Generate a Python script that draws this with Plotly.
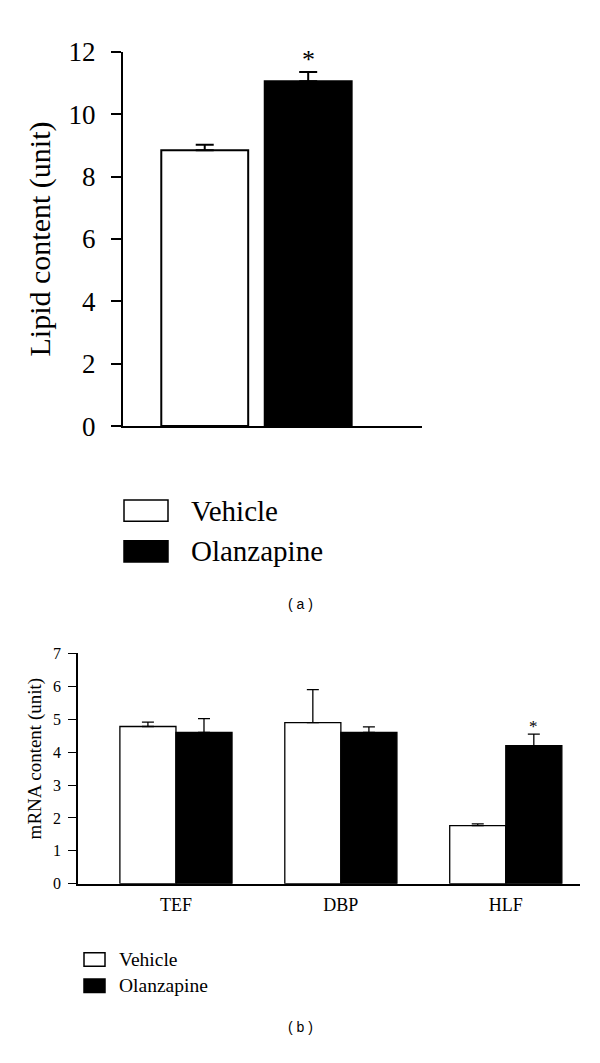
import plotly.graph_objects as go

# Panel (a)
a_groups = ["Vehicle", "Olanzapine"]
a_values = [8.85, 11.06]
a_errors = [0.17, 0.30]
a_yticks = [0, 2, 4, 6, 8, 10, 12]

# Panel (b)
b_genes = ["TEF", "DBP", "HLF"]
b_vehicle = [4.78, 4.90, 1.77]
b_vehicle_err = [0.13, 1.00, 0.05]
b_olanzapine = [4.60, 4.60, 4.20]
b_olanzapine_err = [0.42, 0.17, 0.35]
b_yticks = [0, 1, 2, 3, 4, 5, 6, 7]

W, H = 600, 1063
SERIF = "Liberation Serif"
SANS = "Liberation Sans"
fills = {"Vehicle": "white", "Olanzapine": "black"}

def px(x):
    return x / W

def py(y):
    return 1 - y / H

fig = go.Figure()

# panel (a) bars
for g, v, e in zip(a_groups, a_values, a_errors):
    fig.add_trace(go.Bar(
        x=[g], y=[v], width=[0.84], offset=[-0.42],
        marker=dict(color=fills[g], line=dict(color="black", width=2)),
        error_y=dict(type="data", array=[e], arrayminus=[0], symmetric=False,
                     color="black", thickness=2, width=9),
        xaxis="x", yaxis="y", name=g, showlegend=False,
    ))

# panel (b) bars
fig.add_trace(go.Bar(
    x=b_genes, y=b_vehicle, width=0.34, offset=-0.34,
    marker=dict(color="white", line=dict(color="black", width=1.3)),
    error_y=dict(type="data", array=b_vehicle_err, arrayminus=[0] * 3, symmetric=False,
                 color="black", thickness=1.3, width=6),
    xaxis="x2", yaxis="y2", name="Vehicle", showlegend=False,
))
fig.add_trace(go.Bar(
    x=b_genes, y=b_olanzapine, width=0.34, offset=0,
    marker=dict(color="black", line=dict(color="black", width=1.3)),
    error_y=dict(type="data", array=b_olanzapine_err, arrayminus=[0] * 3, symmetric=False,
                 color="black", thickness=1.3, width=6),
    xaxis="x2", yaxis="y2", name="Olanzapine", showlegend=False,
))

shapes = []
annotations = []

def legend(x0, x1, rows, h, fs, gap):
    for (label, yc) in rows:
        shapes.append(dict(type="rect", xref="paper", yref="paper",
                           x0=px(x0), x1=px(x1), y0=py(yc + h / 2), y1=py(yc - h / 2),
                           fillcolor=fills[label], line=dict(color="black", width=1.5)))
        annotations.append(dict(xref="paper", yref="paper", x=px(x1 + gap),
                                y=py(yc), text=label, showarrow=False, xanchor="left",
                                yanchor="middle", font=dict(family=SERIF, size=fs, color="black")))

legend(124, 168, [("Vehicle", 510), ("Olanzapine", 552)], 22, 29, 21)
legend(84, 105, [("Vehicle", 972), ("Olanzapine", 999)], 14, 19.5, 12)

# y titles
annotations.append(dict(xref="paper", yref="paper", x=px(40), y=py(231), text="Lipid content (unit)",
                        textangle=-90, showarrow=False, xanchor="center", yanchor="middle",
                        font=dict(family=SERIF, size=30, color="black")))
annotations.append(dict(xref="paper", yref="paper", x=px(35), y=py(766), text="mRNA content (unit)",
                        textangle=-90, showarrow=False, xanchor="center", yanchor="middle",
                        font=dict(family=SERIF, size=19, color="black")))

# significance asterisks
annotations.append(dict(x="Olanzapine", y=a_values[1] + a_errors[1], xref="x", yref="y",
                        text="*", showarrow=False, xanchor="center", yanchor="bottom", yshift=-4,
                        font=dict(family=SERIF, size=26, color="black")))
annotations.append(dict(x=2, y=b_olanzapine[2] + b_olanzapine_err[2], xref="x2", yref="y2",
                        text="*", showarrow=False, xanchor="center", yanchor="bottom",
                        xshift=28, yshift=-4,
                        font=dict(family=SERIF, size=17, color="black")))

# panel labels
annotations.append(dict(xref="paper", yref="paper", x=px(300), y=py(606), text="( a )",
                        showarrow=False, xanchor="center", yanchor="middle",
                        font=dict(family=SANS, size=14, color="black")))
annotations.append(dict(xref="paper", yref="paper", x=px(300), y=py(1041), text="( b )",
                        showarrow=False, xanchor="center", yanchor="middle",
                        font=dict(family=SANS, size=14, color="black")))

fig.update_layout(
    width=W, height=H,
    margin=dict(l=0, r=0, t=0, b=0),
    paper_bgcolor="white", plot_bgcolor="white",
    barmode="overlay",
    showlegend=False,
    xaxis=dict(domain=[px(123), px(422)], anchor="y", type="category",
               categoryorder="array", categoryarray=a_groups,
               range=[-0.79, 2.1], showticklabels=False, ticks="",
               showline=True, linecolor="black", linewidth=2, showgrid=False, zeroline=False),
    yaxis=dict(domain=[py(423), py(38)], anchor="x", range=[0, 12],
               tickvals=a_yticks, ticks="outside", ticklen=10, tickwidth=2, tickcolor="black",
               ticklabelstandoff=10,
               tickfont=dict(family=SERIF, size=27, color="black"),
               showline=True, linecolor="black", linewidth=2, showgrid=False, zeroline=False),
    xaxis2=dict(domain=[px(78), px(580)], anchor="y2", type="category",
                categoryorder="array", categoryarray=b_genes,
                range=[-0.594, 2.45], ticks="", ticklabelstandoff=4,
                tickfont=dict(family=SERIF, size=18, color="black"),
                showline=True, linecolor="black", linewidth=1.5, showgrid=False, zeroline=False),
    yaxis2=dict(domain=[py(894), py(657)], anchor="x2", range=[0, 7],
                tickvals=b_yticks, ticks="outside", ticklen=8, tickwidth=1.3, tickcolor="black",
                ticklabelstandoff=4,
                tickfont=dict(family=SERIF, size=16, color="black"),
                showline=True, linecolor="black", linewidth=1.5, showgrid=False, zeroline=False),
    shapes=shapes,
    annotations=annotations,
)

fig.write_html("out.html", config={"displayModeBar": False},
               post_script="document.body.style.margin='0';document.body.style.overflow='hidden';")
